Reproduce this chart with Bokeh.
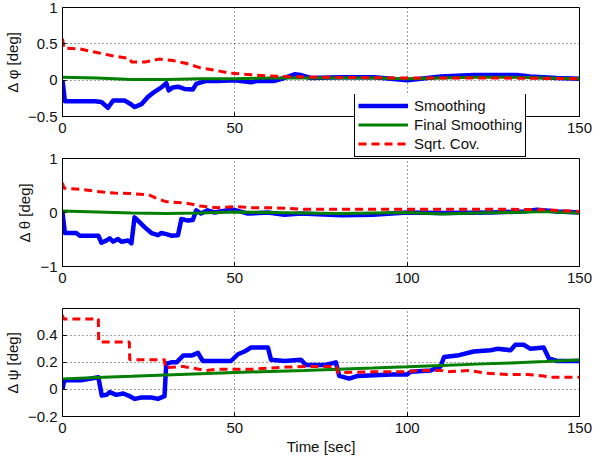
from bokeh.plotting import figure
from bokeh.models import Range1d, FixedTicker, Legend, LegendItem
from bokeh.layouts import column
from bokeh.embed import file_html
from bokeh.resources import INLINE

# ---------------- data ----------------
# Panel 1: delta phi
phi_s_t = [0, 0.7, 5, 9.4, 11.3, 13.2, 14.7, 18, 19.5, 20.9, 22.9, 24.8, 26.7, 28.7, 30.1, 30.8, 32,
           33.5, 35.4, 37.8, 38.8, 40.2, 41.7, 45, 49.9, 54.7, 56.6, 61.5, 64.4, 67.3, 69.2, 72, 80.8,
           90.4, 100, 109.7, 119.3, 131.9, 135.7, 143.4, 150]
phi_s_v = [0.0, -0.29, -0.29, -0.29, -0.30, -0.38, -0.28, -0.28, -0.32, -0.37, -0.33, -0.23, -0.16,
           -0.10, -0.04, -0.14, -0.10, -0.09, -0.12, -0.13, -0.05, -0.03, -0.01, -0.01, 0.00, -0.03,
           -0.01, -0.01, 0.03, 0.08, 0.07, 0.03, 0.04, 0.04, 0.00, 0.05, 0.07, 0.07, 0.05, 0.03, 0.02]
phi_f_t = [0, 10, 20, 30, 40, 50, 60, 70, 80, 90, 100, 110, 120, 130, 140, 150]
phi_f_v = [0.04, 0.03, 0.01, 0.01, 0.02, 0.02, 0.03, 0.03, 0.03, 0.03, 0.02, 0.03, 0.04, 0.04, 0.03, 0.02]
phi_c_t = [0, 0.4, 5, 10, 15, 19.5, 20, 24, 28, 32, 36, 40, 44, 48, 53, 59, 65, 75, 100, 125, 150]
phi_c_v = [0.57, 0.44, 0.43, 0.38, 0.33, 0.30, 0.25, 0.25, 0.29, 0.27, 0.23, 0.17, 0.14, 0.10, 0.08,
           0.06, 0.05, 0.04, 0.03, 0.03, 0.02]

# Panel 2: delta theta
th_s_t = [0, 0.7, 4, 5, 10.4, 11.3, 12.7, 13.7, 14.7, 16.1, 17.1, 19, 20, 20.9, 21.9, 23.8, 25.8, 27.7,
          28.7, 30.1, 31.6, 33.5, 34.5, 36.4, 37.8, 38.8, 40.2, 42.1, 44.1, 47.9, 49.9, 53.8, 59.6,
          64.4, 69.2, 80.8, 90, 100, 109.7, 124.2, 133.8, 137.7, 143.5, 150]
th_s_v = [0, -0.38, -0.38, -0.43, -0.43, -0.56, -0.52, -0.48, -0.54, -0.49, -0.54, -0.52, -0.57, -0.09,
          -0.15, -0.27, -0.38, -0.42, -0.38, -0.40, -0.43, -0.42, -0.12, -0.15, -0.14, 0.04, -0.02,
          0.04, 0.00, 0.04, 0.05, -0.02, 0.00, -0.04, -0.02, -0.05, -0.04, 0.00, -0.01, 0.00, 0.02,
          0.05, 0.02, 0.00]
th_f_t = [0, 10, 20, 30, 40, 50, 60, 70, 80, 90, 100, 110, 120, 130, 140, 150]
th_f_v = [0.03, 0.01, -0.01, -0.02, -0.01, 0.01, 0.00, -0.01, -0.02, -0.01, 0.00, -0.03, -0.01, 0.00,
          0.02, -0.01]
th_c_t = [0, 0.4, 5, 10, 15, 20, 25, 27, 30, 35, 38, 40, 45, 50, 55, 60, 65, 70, 100, 130, 140, 150]
th_c_v = [0.55, 0.45, 0.43, 0.39, 0.36, 0.35, 0.33, 0.27, 0.20, 0.18, 0.15, 0.12, 0.09, 0.11, 0.09,
          0.09, 0.08, 0.06, 0.06, 0.06, 0.05, 0.02]

# Panel 3: delta psi
psi_s_t = [0, 0.5, 5.3, 10.4, 11.4, 12.8, 13.7, 15.6, 17.6, 19.5, 21, 22.9, 25.8, 27.7, 29.6, 30.1,
           31.6, 33.1, 35, 37.4, 39.3, 40.7, 45, 48.9, 50.9, 52.8, 54.7, 59.6, 60.5, 64.4, 69.2, 70.6,
           75.9, 79.3, 80.3, 83.2, 85.6, 95.3, 100, 101, 106.8, 109.7, 110.7, 114.5, 119.3, 124.2,
           126.1, 130, 131.4, 133.8, 135.8, 139.6, 141.1, 143.5, 150]
psi_s_v = [0.0, 0.067, 0.067, 0.09, -0.045, -0.04, -0.02, -0.04, -0.03, -0.05, -0.07, -0.06, -0.06,
           -0.07, -0.05, 0.19, 0.20, 0.20, 0.25, 0.25, 0.27, 0.21, 0.21, 0.21, 0.26, 0.28, 0.31, 0.31,
           0.22, 0.21, 0.22, 0.18, 0.18, 0.20, 0.10, 0.08, 0.10, 0.11, 0.11, 0.13, 0.14, 0.17, 0.24,
           0.25, 0.28, 0.29, 0.30, 0.29, 0.33, 0.33, 0.30, 0.31, 0.23, 0.21, 0.21]
psi_f_t = [0, 10, 20, 30, 40, 50, 60, 70, 80, 90, 100, 110, 120, 130, 140, 150]
psi_f_v = [0.078, 0.088, 0.097, 0.107, 0.116, 0.125, 0.133, 0.140, 0.150, 0.158, 0.167, 0.177, 0.187,
           0.196, 0.206, 0.217]
psi_c_t = [0, 0.3, 10.4, 10.5, 19.4, 19.5, 29.6, 29.8, 35, 41.7, 45, 55, 65, 72, 79.5, 79.8, 90, 100,
           103, 110, 111.6, 118, 123, 129, 135, 139.6, 141, 150]
psi_c_v = [0.55, 0.52, 0.52, 0.35, 0.35, 0.22, 0.22, 0.16, 0.17, 0.14, 0.15, 0.15, 0.165, 0.17, 0.17,
           0.125, 0.13, 0.13, 0.14, 0.14, 0.13, 0.14, 0.12, 0.11, 0.11, 0.10, 0.09, 0.09]

x_ticks = [0, 50, 100, 150]
y1_ticks = [-0.5, 0, 0.5, 1]
y2_ticks = [-1, 0, 1]
y3_ticks = [-0.2, 0, 0.2, 0.4]
legend_labels = ["Smoothing", "Final Smoothing", "Sqrt. Cov."]

FONT = "Liberation Sans"
STYLES = [dict(line_color="#0000FF", line_width=4.5, line_join="round"),
          dict(line_color="#008000", line_width=3),
          dict(line_color="#FF0000", line_width=3, line_dash="8 5")]


def fmt(v):
    return ("%g" % v).replace("-", "\u2212")


def make_fig(height, top, bottom, yr, yticks, ylabel, xlabel=None):
    p = figure(width=594, height=height, x_range=Range1d(0, 150), y_range=Range1d(*yr),
               output_backend="svg", toolbar_location=None,
               min_border_left=61, min_border_right=15, min_border_top=top,
               min_border_bottom=bottom)
    p.border_fill_color = None
    p.background_fill_color = "white"
    p.outline_line_color = "black"
    p.outline_line_alpha = 1
    p.outline_line_width = 1
    p.xaxis.ticker = FixedTicker(ticks=x_ticks)
    p.yaxis.ticker = FixedTicker(ticks=yticks)
    p.xaxis.major_label_overrides = {t: fmt(t) for t in x_ticks}
    p.yaxis.major_label_overrides = {t: fmt(t) for t in yticks}
    for ax in (p.xaxis[0], p.yaxis[0]):
        ax.major_tick_in = 4
        ax.major_tick_out = 0
        ax.minor_tick_in = 0
        ax.minor_tick_out = 0
        ax.axis_line_color = "black"
        ax.major_tick_line_color = "black"
        ax.major_label_text_font = FONT
        ax.major_label_text_font_size = "15px"
        ax.major_label_text_color = "#111111"
        ax.axis_label_text_font = FONT
        ax.axis_label_text_font_size = "15px"
        ax.axis_label_text_font_style = "normal"
        ax.axis_label_text_color = "#111111"
    p.yaxis.major_label_standoff = 5
    p.xaxis.major_label_standoff = 6
    p.yaxis.axis_label = ylabel
    p.yaxis.axis_label_standoff = 4
    if xlabel:
        p.xaxis.axis_label = xlabel
        p.xaxis.axis_label_standoff = 2
    for g in (p.xgrid[0], p.ygrid[0]):
        g.grid_line_color = "black"
        g.grid_line_alpha = 0.75
        g.grid_line_dash = "1 3"
        g.grid_line_width = 1
    return p


def add_lines(p, st, sv, ft, fv, ct, cv, visible=True):
    rs = []
    for (x, y), st_ in zip([(st, sv), (ft, fv), (ct, cv)], STYLES):
        rs.append(p.line(x, y, visible=visible, **st_))
    return rs


p1 = make_fig(150, 7, 34, (-0.5, 1), y1_ticks, "\u0394 \u03c6 [deg]")
add_lines(p1, phi_s_t, phi_s_v, phi_f_t, phi_f_v, phi_c_t, phi_c_v)

# transparent overlay holding the legend (it straddles panels 1 and 2)
pl = figure(width=594, height=66, x_range=Range1d(0, 150), y_range=Range1d(-0.5, 1),
            x_axis_type=None, y_axis_type=None, output_backend="svg", toolbar_location=None,
            min_border_left=61, min_border_right=15, min_border_top=0, min_border_bottom=0)
pl.outline_line_color = None
pl.background_fill_color = None
pl.border_fill_color = None
leg_rs = add_lines(pl, phi_s_t, phi_s_v, phi_f_t, phi_f_v, phi_c_t, phi_c_v, visible=False)
legend = Legend(items=[LegendItem(label=l, renderers=[r]) for l, r in zip(legend_labels, leg_rs)],
                location=(292, 3), margin=0, padding=3, spacing=0,
                glyph_width=50, glyph_height=19, label_height=19, label_standoff=6,
                label_text_font=FONT, label_text_font_size="15px", label_text_color="#111111",
                border_line_color="black", border_line_width=1, border_line_alpha=1,
                background_fill_color="white", background_fill_alpha=1,
                inactive_fill_alpha=0)
pl.add_layout(legend, "center")
pl.margin = (-56, 0, 0, 0)

p2 = make_fig(150, 8, 34, (-1, 1), y2_ticks, "\u0394 \u03b8 [deg]")
add_lines(p2, th_s_t, th_s_v, th_f_t, th_f_v, th_c_t, th_c_v)
p2.margin = (-10, 0, 0, 0)

p3 = make_fig(158, 8, 42, (-0.2, 0.598), y3_ticks, "\u0394 \u03c8 [deg]", "Time [sec]")
add_lines(p3, psi_s_t, psi_s_v, psi_f_t, psi_f_v, psi_c_t, psi_c_v)

layout = column(p1, pl, p2, p3, spacing=0)
layout.margin = 0
open("out.html", "w").write(file_html(layout, INLINE))
